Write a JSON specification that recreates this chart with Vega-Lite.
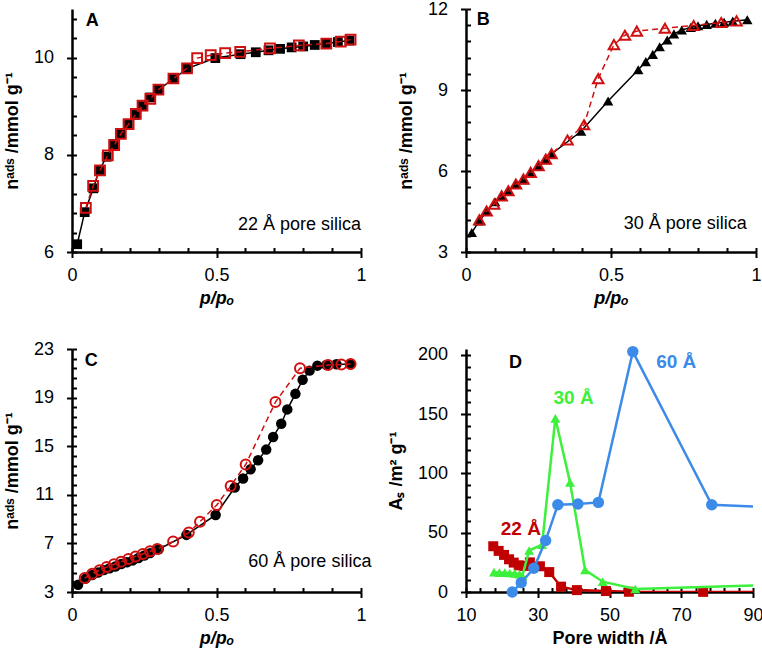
{
  "$schema": "https://vega.github.io/schema/vega-lite/v6.json",
  "padding": {"left": 3, "top": 0, "right": 0, "bottom": 0},
  "config": {
    "font": "Liberation Sans",
    "view": {"stroke": null},
    "axis": {"grid": false, "domainColor": "black", "domainWidth": 2.5, "tickColor": "black", "tickWidth": 2, "labelFontSize": 18, "labelColor": "black", "labelFont": "Liberation Sans", "titleFont": "Liberation Sans", "titleFontSize": 18, "titleFontWeight": "bold", "titleColor": "black", "labelFlush": false, "labelOverlap": false},
    "axisX": {"labelPadding": 9, "titlePadding": 5},
    "axisY": {"labelPadding": 13, "titlePadding": 12}
  },
  "datasets": {
    "A": [
      {"s":"ads","p":0.018,"n":6.16},{"s":"ads","p":0.044,"n":6.82},{"s":"ads","p":0.074,"n":7.31},{"s":"ads","p":0.094,"n":7.68},{"s":"ads","p":0.12,"n":7.96},{"s":"ads","p":0.144,"n":8.22},{"s":"ads","p":0.168,"n":8.43},{"s":"ads","p":0.193,"n":8.63},{"s":"ads","p":0.218,"n":8.82},{"s":"ads","p":0.245,"n":9.0},{"s":"ads","p":0.27,"n":9.18},{"s":"ads","p":0.3,"n":9.34},{"s":"ads","p":0.35,"n":9.56},{"s":"ads","p":0.4,"n":9.78},{"s":"ads","p":0.496,"n":9.99},{"s":"ads","p":0.583,"n":10.07},{"s":"ads","p":0.636,"n":10.11},{"s":"ads","p":0.68,"n":10.15},{"s":"ads","p":0.72,"n":10.18},{"s":"ads","p":0.76,"n":10.21},{"s":"ads","p":0.8,"n":10.23},{"s":"ads","p":0.84,"n":10.26},{"s":"ads","p":0.88,"n":10.29},{"s":"ads","p":0.92,"n":10.32},{"s":"ads","p":0.96,"n":10.35},
      {"s":"des","p":0.964,"n":10.37},{"s":"des","p":0.93,"n":10.33},{"s":"des","p":0.88,"n":10.29},{"s":"des","p":0.785,"n":10.25},{"s":"des","p":0.685,"n":10.19},{"s":"des","p":0.582,"n":10.12},{"s":"des","p":0.53,"n":10.09},{"s":"des","p":0.48,"n":10.05},{"s":"des","p":0.433,"n":9.99},{"s":"des","p":0.398,"n":9.78},{"s":"des","p":0.351,"n":9.57},{"s":"des","p":0.299,"n":9.34},{"s":"des","p":0.271,"n":9.15},{"s":"des","p":0.244,"n":9.01},{"s":"des","p":0.221,"n":8.84},{"s":"des","p":0.196,"n":8.63},{"s":"des","p":0.169,"n":8.43},{"s":"des","p":0.146,"n":8.2},{"s":"des","p":0.124,"n":7.99},{"s":"des","p":0.097,"n":7.68},{"s":"des","p":0.073,"n":7.36},{"s":"des","p":0.048,"n":6.91}
    ],
    "B": [
      {"s":"ads","p":0.02,"n":3.72},{"s":"ads","p":0.046,"n":4.15},{"s":"ads","p":0.071,"n":4.5},{"s":"ads","p":0.1,"n":4.86},{"s":"ads","p":0.123,"n":5.06},{"s":"ads","p":0.146,"n":5.25},{"s":"ads","p":0.172,"n":5.5},{"s":"ads","p":0.198,"n":5.68},{"s":"ads","p":0.223,"n":5.93},{"s":"ads","p":0.25,"n":6.18},{"s":"ads","p":0.275,"n":6.42},{"s":"ads","p":0.295,"n":6.63},{"s":"ads","p":0.397,"n":7.47},{"s":"ads","p":0.49,"n":8.59},{"s":"ads","p":0.594,"n":9.75},{"s":"ads","p":0.62,"n":10.05},{"s":"ads","p":0.644,"n":10.32},{"s":"ads","p":0.668,"n":10.6},{"s":"ads","p":0.694,"n":10.85},{"s":"ads","p":0.717,"n":11.08},{"s":"ads","p":0.744,"n":11.22},{"s":"ads","p":0.775,"n":11.32},{"s":"ads","p":0.8,"n":11.38},{"s":"ads","p":0.83,"n":11.43},{"s":"ads","p":0.86,"n":11.47},{"s":"ads","p":0.89,"n":11.51},{"s":"ads","p":0.92,"n":11.55},{"s":"ads","p":0.97,"n":11.6},
      {"s":"des","p":0.933,"n":11.56},{"s":"des","p":0.88,"n":11.5},{"s":"des","p":0.785,"n":11.39},{"s":"des","p":0.686,"n":11.29},{"s":"des","p":0.589,"n":11.18},{"s":"des","p":0.548,"n":11.03},{"s":"des","p":0.51,"n":10.68},{"s":"des","p":0.456,"n":9.42},{"s":"des","p":0.407,"n":7.71},{"s":"des","p":0.35,"n":7.15},{"s":"des","p":0.295,"n":6.64},{"s":"des","p":0.275,"n":6.44},{"s":"des","p":0.25,"n":6.2},{"s":"des","p":0.223,"n":5.95},{"s":"des","p":0.198,"n":5.7},{"s":"des","p":0.172,"n":5.52},{"s":"des","p":0.146,"n":5.27},{"s":"des","p":0.123,"n":5.08},{"s":"des","p":0.097,"n":4.77},{"s":"des","p":0.071,"n":4.52},{"s":"des","p":0.046,"n":4.19}
    ],
    "C": [
      {"s":"ads","p":0.021,"n":3.6},{"s":"ads","p":0.047,"n":4.1},{"s":"ads","p":0.07,"n":4.4},{"s":"ads","p":0.09,"n":4.6},{"s":"ads","p":0.11,"n":4.8},{"s":"ads","p":0.13,"n":4.95},{"s":"ads","p":0.15,"n":5.1},{"s":"ads","p":0.17,"n":5.3},{"s":"ads","p":0.19,"n":5.45},{"s":"ads","p":0.21,"n":5.6},{"s":"ads","p":0.23,"n":5.8},{"s":"ads","p":0.25,"n":6.0},{"s":"ads","p":0.27,"n":6.2},{"s":"ads","p":0.3,"n":6.52},{"s":"ads","p":0.396,"n":7.7},{"s":"ads","p":0.497,"n":9.34},{"s":"ads","p":0.563,"n":11.6},{"s":"ads","p":0.592,"n":12.34},{"s":"ads","p":0.618,"n":13.1},{"s":"ads","p":0.644,"n":13.85},{"s":"ads","p":0.672,"n":14.72},{"s":"ads","p":0.696,"n":15.76},{"s":"ads","p":0.724,"n":16.85},{"s":"ads","p":0.745,"n":18.03},{"s":"ads","p":0.773,"n":19.31},{"s":"ads","p":0.798,"n":20.46},{"s":"ads","p":0.822,"n":21.22},{"s":"ads","p":0.849,"n":21.63},{"s":"ads","p":0.88,"n":21.69},{"s":"ads","p":0.915,"n":21.74},{"s":"ads","p":0.964,"n":21.74},
      {"s":"des","p":0.964,"n":21.76},{"s":"des","p":0.932,"n":21.72},{"s":"des","p":0.886,"n":21.69},{"s":"des","p":0.789,"n":21.42},{"s":"des","p":0.704,"n":18.63},{"s":"des","p":0.601,"n":13.49},{"s":"des","p":0.549,"n":11.72},{"s":"des","p":0.501,"n":10.16},{"s":"des","p":0.443,"n":8.79},{"s":"des","p":0.404,"n":7.89},{"s":"des","p":0.35,"n":7.16},{"s":"des","p":0.295,"n":6.54},{"s":"des","p":0.27,"n":6.35},{"s":"des","p":0.245,"n":6.13},{"s":"des","p":0.22,"n":5.93},{"s":"des","p":0.195,"n":5.72},{"s":"des","p":0.17,"n":5.5},{"s":"des","p":0.145,"n":5.28},{"s":"des","p":0.12,"n":5.05},{"s":"des","p":0.095,"n":4.8},{"s":"des","p":0.07,"n":4.5},{"s":"des","p":0.044,"n":4.15}
    ],
    "D": [
      {"s":"22","w":17.6,"a":38.6},{"s":"22","w":19.1,"a":34.7},{"s":"22","w":20.6,"a":31.3},{"s":"22","w":22.0,"a":27.6},{"s":"22","w":23.3,"a":24.8},{"s":"22","w":24.7,"a":22.5},{"s":"22","w":26.2,"a":22.0},{"s":"22","w":27.8,"a":25.0},{"s":"22","w":30.6,"a":21.7},{"s":"22","w":33.2,"a":16.8},{"s":"22","w":36.5,"a":4.5},{"s":"22","w":40.9,"a":1.6},{"s":"22","w":49.0,"a":0.8},{"s":"22","w":55.4,"a":0.2},{"s":"22","w":76.1,"a":0.1},{"s":"22","w":100,"a":0},
      {"s":"30","w":17.8,"a":16.7},{"s":"30","w":19.3,"a":16.4},{"s":"30","w":20.8,"a":16.3},{"s":"30","w":22.2,"a":16.0},{"s":"30","w":23.6,"a":15.7},{"s":"30","w":24.9,"a":15.0},{"s":"30","w":25.7,"a":13.5},{"s":"30","w":27.6,"a":35.0},{"s":"30","w":31.2,"a":40.0},{"s":"30","w":34.9,"a":146.5},{"s":"30","w":39.0,"a":92.5},{"s":"30","w":43.2,"a":18.6},{"s":"30","w":48.1,"a":8.7},{"s":"30","w":57.2,"a":2.5},{"s":"30","w":100,"a":6.3},
      {"s":"60","w":22.9,"a":0.0},{"s":"60","w":25.4,"a":7.9},{"s":"60","w":28.9,"a":20.0},{"s":"60","w":32.2,"a":43.4},{"s":"60","w":35.6,"a":73.6},{"s":"60","w":41.2,"a":74.2},{"s":"60","w":46.9,"a":75.6},{"s":"60","w":56.5,"a":202.8},{"s":"60","w":78.5,"a":73.6},{"s":"60","w":100,"a":71.0}
    ],
    "labels": [
      {"panel":"A","kind":"letter","x":0.048,"y":10.75,"t":"A"},
      {"panel":"A","kind":"desc","x":1.0,"y":6.56,"t":"22 Å pore silica"},
      {"panel":"B","kind":"letter","x":0.037,"y":11.59,"t":"B"},
      {"panel":"B","kind":"desc","x":0.968,"y":4.03,"t":"30 Å pore silica"},
      {"panel":"C","kind":"letter","x":0.044,"y":22.05,"t":"C"},
      {"panel":"C","kind":"desc","x":1.036,"y":5.45,"t":"60 Å pore silica"},
      {"panel":"D","kind":"letter","x":22.0,"y":193.6,"t":"D"},
      {"panel":"D","kind":"s22","x":19.7,"y":53.2,"t":"22 Å"},
      {"panel":"D","kind":"s30","x":34.4,"y":164,"t":"30 Å"},
      {"panel":"D","kind":"s60","x":63.0,"y":194.3,"t":"60 Å"}
    ]
  },
  "columns": 2,
  "spacing": {"row": 97, "column": 105},
  "bounds": "flush",
  "concat": [
    {
      "width": 289, "height": 243,
      "resolve": {"axis": {"x": "independent", "y": "independent"}},
      "layer": [
        {"data": {"name": "A"}, "transform": [{"filter": "datum.s === 'ads'"}],
         "mark": {"type": "line", "color": "black", "strokeWidth": 1.5},
         "encoding": {
           "x": {"field": "p", "type": "quantitative", "scale": {"domain": [0, 1], "nice": false, "zero": false},
                 "axis": {"orient": "bottom", "values": [0, 0.5, 1], "format": "~g", "tickSize": 5.5, "title": "p/pₒ", "titleFontStyle": "italic"}},
           "y": {"field": "n", "type": "quantitative", "scale": {"domain": [6, 11], "nice": false, "zero": false},
                 "axis": {"orient": "left", "values": [6, 8, 10], "tickSize": 5.5, "title": "nᵃᵈˢ /mmol g⁻¹"}}
         }},
        {"data": {"name": "A"}, "transform": [{"filter": "datum.s === 'ads'"}],
         "mark": {"type": "point", "opacity": 0},
         "encoding": {
           "x": {"field": "p", "type": "quantitative", "axis": {"orient": "top", "offset": -243, "values": [0,0.1,0.2,0.3,0.4,0.5,0.6,0.7,0.8,0.9,1], "tickSize": 4.5, "labels": false, "domain": false, "title": null}},
           "y": {"field": "n", "type": "quantitative", "axis": {"orient": "right", "offset": -289, "values": [6,6.4,6.8,7.2,7.6,8,8.4,8.8,9.2,9.6,10,10.4,10.8], "tickSize": 4.5, "labels": false, "domain": false, "title": null}}
         }},
        {"data": {"name": "A"}, "transform": [{"filter": "datum.s === 'ads'"}],
         "mark": {"type": "point", "shape": "square", "filled": true, "color": "black", "size": 95, "opacity": 1},
         "encoding": {"x": {"field": "p", "type": "quantitative", "axis": null}, "y": {"field": "n", "type": "quantitative", "axis": null}}},
        {"data": {"name": "A"}, "transform": [{"filter": "datum.s === 'des'"}],
         "mark": {"type": "line", "color": "#d01010", "strokeWidth": 1.5, "strokeDash": [6, 4]},
         "encoding": {"x": {"field": "p", "type": "quantitative", "axis": null}, "y": {"field": "n", "type": "quantitative", "axis": null}}},
        {"data": {"name": "A"}, "transform": [{"filter": "datum.s === 'des'"}],
         "mark": {"type": "point", "shape": "square", "filled": false, "color": "#d01010", "size": 95, "strokeWidth": 2, "opacity": 1},
         "encoding": {"x": {"field": "p", "type": "quantitative", "axis": null}, "y": {"field": "n", "type": "quantitative", "axis": null}}},
        {"data": {"name": "labels"}, "transform": [{"filter": "datum.panel === 'A' && datum.kind === 'letter'"}],
         "mark": {"type": "text", "align": "left", "baseline": "middle", "fontSize": 18, "fontWeight": "bold", "color": "black"},
         "encoding": {"x": {"field": "x", "type": "quantitative", "axis": null}, "y": {"field": "y", "type": "quantitative", "axis": null}, "text": {"field": "t"}}},
        {"data": {"name": "labels"}, "transform": [{"filter": "datum.panel === 'A' && datum.kind === 'desc'"}],
         "mark": {"type": "text", "align": "right", "baseline": "middle", "fontSize": 18, "color": "black"},
         "encoding": {"x": {"field": "x", "type": "quantitative", "axis": null}, "y": {"field": "y", "type": "quantitative", "axis": null}, "text": {"field": "t"}}}
      ]
    },
    {
      "width": 290, "height": 243,
      "resolve": {"axis": {"x": "independent", "y": "independent"}},
      "layer": [
        {"data": {"name": "B"}, "transform": [{"filter": "datum.s === 'ads'"}],
         "mark": {"type": "line", "color": "black", "strokeWidth": 1.5},
         "encoding": {
           "x": {"field": "p", "type": "quantitative", "scale": {"domain": [0, 1], "nice": false, "zero": false},
                 "axis": {"orient": "bottom", "values": [0, 0.5, 1], "format": "~g", "tickSize": 5.5, "title": "p/pₒ", "titleFontStyle": "italic"}},
           "y": {"field": "n", "type": "quantitative", "scale": {"domain": [3, 12], "nice": false, "zero": false},
                 "axis": {"orient": "left", "values": [3, 6, 9, 12], "tickSize": 5.5, "title": "nᵃᵈˢ /mmol g⁻¹"}}
         }},
        {"data": {"name": "B"}, "transform": [{"filter": "datum.s === 'ads'"}],
         "mark": {"type": "point", "opacity": 0},
         "encoding": {
           "x": {"field": "p", "type": "quantitative", "axis": {"orient": "top", "offset": -243, "values": [0,0.1,0.2,0.3,0.4,0.5,0.6,0.7,0.8,0.9,1], "tickSize": 4.5, "labels": false, "domain": false, "title": null}},
           "y": {"field": "n", "type": "quantitative", "axis": {"orient": "right", "offset": -290, "values": [3,3.6,4.2,4.8,5.4,6,6.6,7.2,7.8,8.4,9,9.6,10.2,10.8,11.4,12], "tickSize": 4.5, "labels": false, "domain": false, "title": null}}
         }},
        {"data": {"name": "B"}, "transform": [{"filter": "datum.s === 'ads'"}],
         "mark": {"type": "point", "shape": "triangle-up", "filled": true, "color": "black", "size": 110, "opacity": 1},
         "encoding": {"x": {"field": "p", "type": "quantitative", "axis": null}, "y": {"field": "n", "type": "quantitative", "axis": null}}},
        {"data": {"name": "B"}, "transform": [{"filter": "datum.s === 'des'"}],
         "mark": {"type": "line", "color": "#d01010", "strokeWidth": 1.5, "strokeDash": [6, 4]},
         "encoding": {"x": {"field": "p", "type": "quantitative", "axis": null}, "y": {"field": "n", "type": "quantitative", "axis": null}}},
        {"data": {"name": "B"}, "transform": [{"filter": "datum.s === 'des'"}],
         "mark": {"type": "point", "shape": "triangle-up", "filled": false, "color": "#d01010", "size": 110, "strokeWidth": 2, "opacity": 1},
         "encoding": {"x": {"field": "p", "type": "quantitative", "axis": null}, "y": {"field": "n", "type": "quantitative", "axis": null}}},
        {"data": {"name": "labels"}, "transform": [{"filter": "datum.panel === 'B' && datum.kind === 'letter'"}],
         "mark": {"type": "text", "align": "left", "baseline": "middle", "fontSize": 18, "fontWeight": "bold", "color": "black"},
         "encoding": {"x": {"field": "x", "type": "quantitative", "axis": null}, "y": {"field": "y", "type": "quantitative", "axis": null}, "text": {"field": "t"}}},
        {"data": {"name": "labels"}, "transform": [{"filter": "datum.panel === 'B' && datum.kind === 'desc'"}],
         "mark": {"type": "text", "align": "right", "baseline": "middle", "fontSize": 18, "color": "black"},
         "encoding": {"x": {"field": "x", "type": "quantitative", "axis": null}, "y": {"field": "y", "type": "quantitative", "axis": null}, "text": {"field": "t"}}}
      ]
    },
    {
      "width": 289, "height": 243,
      "resolve": {"axis": {"x": "independent", "y": "independent"}},
      "layer": [
        {"data": {"name": "C"}, "transform": [{"filter": "datum.s === 'ads'"}],
         "mark": {"type": "line", "color": "black", "strokeWidth": 1.5},
         "encoding": {
           "x": {"field": "p", "type": "quantitative", "scale": {"domain": [0, 1], "nice": false, "zero": false},
                 "axis": {"orient": "bottom", "values": [0, 0.5, 1], "format": "~g", "tickSize": 5.5, "title": "p/pₒ", "titleFontStyle": "italic"}},
           "y": {"field": "n", "type": "quantitative", "scale": {"domain": [3, 23], "nice": false, "zero": false},
                 "axis": {"orient": "left", "values": [3, 7, 11, 15, 19, 23], "tickSize": 5.5, "title": "nᵃᵈˢ /mmol g⁻¹"}}
         }},
        {"data": {"name": "C"}, "transform": [{"filter": "datum.s === 'ads'"}],
         "mark": {"type": "point", "opacity": 0},
         "encoding": {
           "x": {"field": "p", "type": "quantitative", "axis": {"orient": "top", "offset": -243, "values": [0,0.1,0.2,0.3,0.4,0.5,0.6,0.7,0.8,0.9,1], "tickSize": 4.5, "labels": false, "domain": false, "title": null}},
           "y": {"field": "n", "type": "quantitative", "axis": {"orient": "right", "offset": -289, "values": [3,3.8,4.6,5.4,6.2,7,7.8,8.6,9.4,10.2,11,11.8,12.6,13.4,14.2,15,15.8,16.6,17.4,18.2,19,19.8,20.6,21.4,22.2,23], "tickSize": 4.5, "labels": false, "domain": false, "title": null}}
         }},
        {"data": {"name": "C"}, "transform": [{"filter": "datum.s === 'ads'"}],
         "mark": {"type": "point", "shape": "circle", "filled": true, "color": "black", "size": 110, "opacity": 1},
         "encoding": {"x": {"field": "p", "type": "quantitative", "axis": null}, "y": {"field": "n", "type": "quantitative", "axis": null}}},
        {"data": {"name": "C"}, "transform": [{"filter": "datum.s === 'des'"}],
         "mark": {"type": "line", "color": "#d01010", "strokeWidth": 1.5, "strokeDash": [6, 4]},
         "encoding": {"x": {"field": "p", "type": "quantitative", "axis": null}, "y": {"field": "n", "type": "quantitative", "axis": null}}},
        {"data": {"name": "C"}, "transform": [{"filter": "datum.s === 'des'"}],
         "mark": {"type": "point", "shape": "circle", "filled": false, "color": "#d01010", "size": 100, "strokeWidth": 2, "opacity": 1},
         "encoding": {"x": {"field": "p", "type": "quantitative", "axis": null}, "y": {"field": "n", "type": "quantitative", "axis": null}}},
        {"data": {"name": "labels"}, "transform": [{"filter": "datum.panel === 'C' && datum.kind === 'letter'"}],
         "mark": {"type": "text", "align": "left", "baseline": "middle", "fontSize": 18, "fontWeight": "bold", "color": "black"},
         "encoding": {"x": {"field": "x", "type": "quantitative", "axis": null}, "y": {"field": "y", "type": "quantitative", "axis": null}, "text": {"field": "t"}}},
        {"data": {"name": "labels"}, "transform": [{"filter": "datum.panel === 'C' && datum.kind === 'desc'"}],
         "mark": {"type": "text", "align": "right", "baseline": "middle", "fontSize": 18, "color": "black"},
         "encoding": {"x": {"field": "x", "type": "quantitative", "axis": null}, "y": {"field": "y", "type": "quantitative", "axis": null}, "text": {"field": "t"}}}
      ]
    },
    {
      "width": 287, "height": 243,
      "resolve": {"axis": {"x": "independent", "y": "independent"}},
      "layer": [
        {"data": {"name": "D"}, "transform": [{"filter": "datum.s === '22'"}],
         "mark": {"type": "line", "color": "#c00000", "strokeWidth": 2.5, "clip": true},
         "encoding": {
           "x": {"field": "w", "type": "quantitative", "scale": {"domain": [10, 90], "nice": false, "zero": false},
                 "axis": {"orient": "bottom", "values": [10, 30, 50, 70, 90], "tickSize": 5.5, "title": "Pore width /Å"}},
           "y": {"field": "a", "type": "quantitative", "scale": {"domain": [0, 205], "nice": false, "zero": false},
                 "axis": {"orient": "left", "values": [0, 50, 100, 150, 200], "tickSize": 5.5, "title": "Aₛ /m² g⁻¹"}}
         }},
        {"data": {"name": "D"}, "transform": [{"filter": "datum.s === '22'"}],
         "mark": {"type": "point", "opacity": 0},
         "encoding": {
           "x": {"field": "w", "type": "quantitative", "axis": {"orient": "top", "offset": -243, "values": [10,14,18,22,26,30,34,38,42,46,50,54,58,62,66,70,74,78,82,86,90], "tickSize": 4.5, "labels": false, "domain": false, "title": null}},
           "y": {"field": "a", "type": "quantitative", "axis": {"orient": "right", "offset": -287, "values": [0,10,20,30,40,50,60,70,80,90,100,110,120,130,140,150,160,170,180,190,200], "tickSize": 4.5, "labels": false, "domain": false, "title": null}}
         }},
        {"data": {"name": "D"}, "transform": [{"filter": "datum.s === '22' && datum.w <= 90"}],
         "mark": {"type": "point", "shape": "square", "filled": true, "color": "#c00000", "size": 100, "opacity": 1},
         "encoding": {"x": {"field": "w", "type": "quantitative", "axis": null}, "y": {"field": "a", "type": "quantitative", "axis": null}}},
        {"data": {"name": "D"}, "transform": [{"filter": "datum.s === '30'"}],
         "mark": {"type": "line", "color": "#3cf03c", "strokeWidth": 2.5, "clip": true},
         "encoding": {"x": {"field": "w", "type": "quantitative", "axis": null}, "y": {"field": "a", "type": "quantitative", "axis": null}}},
        {"data": {"name": "D"}, "transform": [{"filter": "datum.s === '30' && datum.w <= 90"}],
         "mark": {"type": "point", "shape": "triangle-up", "filled": true, "color": "#3cf03c", "size": 100, "opacity": 1},
         "encoding": {"x": {"field": "w", "type": "quantitative", "axis": null}, "y": {"field": "a", "type": "quantitative", "axis": null}}},
        {"data": {"name": "D"}, "transform": [{"filter": "datum.s === '60'"}],
         "mark": {"type": "line", "color": "#3d8be8", "strokeWidth": 2.5, "clip": true},
         "encoding": {"x": {"field": "w", "type": "quantitative", "axis": null}, "y": {"field": "a", "type": "quantitative", "axis": null}}},
        {"data": {"name": "D"}, "transform": [{"filter": "datum.s === '60' && datum.w <= 90"}],
         "mark": {"type": "point", "shape": "circle", "filled": true, "color": "#3d8be8", "size": 130, "opacity": 1},
         "encoding": {"x": {"field": "w", "type": "quantitative", "axis": null}, "y": {"field": "a", "type": "quantitative", "axis": null}}},
        {"data": {"name": "labels"}, "transform": [{"filter": "datum.panel === 'D' && datum.kind === 'letter'"}],
         "mark": {"type": "text", "align": "left", "baseline": "middle", "fontSize": 18, "fontWeight": "bold", "color": "black"},
         "encoding": {"x": {"field": "x", "type": "quantitative", "axis": null}, "y": {"field": "y", "type": "quantitative", "axis": null}, "text": {"field": "t"}}},
        {"data": {"name": "labels"}, "transform": [{"filter": "datum.panel === 'D' && datum.kind === 's22'"}],
         "mark": {"type": "text", "align": "left", "baseline": "middle", "fontSize": 19, "fontWeight": "bold", "color": "#c00000"},
         "encoding": {"x": {"field": "x", "type": "quantitative", "axis": null}, "y": {"field": "y", "type": "quantitative", "axis": null}, "text": {"field": "t"}}},
        {"data": {"name": "labels"}, "transform": [{"filter": "datum.panel === 'D' && datum.kind === 's30'"}],
         "mark": {"type": "text", "align": "left", "baseline": "middle", "fontSize": 19, "fontWeight": "bold", "color": "#3cf03c"},
         "encoding": {"x": {"field": "x", "type": "quantitative", "axis": null}, "y": {"field": "y", "type": "quantitative", "axis": null}, "text": {"field": "t"}}},
        {"data": {"name": "labels"}, "transform": [{"filter": "datum.panel === 'D' && datum.kind === 's60'"}],
         "mark": {"type": "text", "align": "left", "baseline": "middle", "fontSize": 19, "fontWeight": "bold", "color": "#3d8be8"},
         "encoding": {"x": {"field": "x", "type": "quantitative", "axis": null}, "y": {"field": "y", "type": "quantitative", "axis": null}, "text": {"field": "t"}}}
      ]
    }
  ]
}
